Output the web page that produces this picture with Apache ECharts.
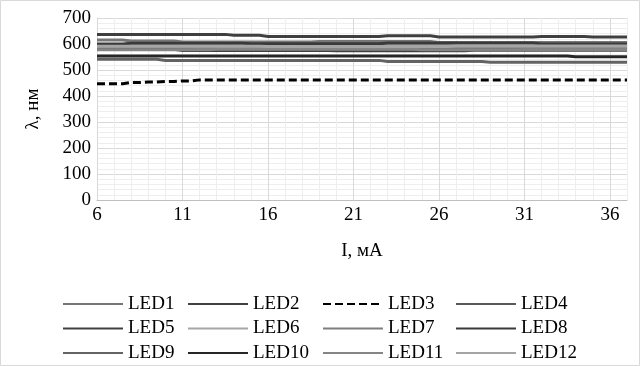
<!DOCTYPE html>
<html><head><meta charset="utf-8">
<script src="https://cdn.jsdelivr.net/npm/echarts@6/dist/echarts.min.js"></script>
<style>html,body{margin:0;padding:0;background:#fff}#c{width:640px;height:366px}</style>
</head><body><div id="c"></div>
<script>
const currents = [6,7,8,9,10,11,12,13,14,15,16,17,18,19,20,21,22,23,24,25,26,27,28,29,30,31,32,33,34,35,36,37];
const LED1  = [615,615,612,612,612,608,608,608,608,608,608,608,608,610,610,610,610,610,610,610,606,606,606,606,606,606,606,606,606,606,606,606];
const LED2  = [637,637,637,637,637,637,637,637,634,634,629,629,629,629,629,629,629,632,632,632,627,627,627,627,627,627,629,629,629,627,627,627];
const LED3  = [447,447,452,454,456,458,462,462,462,462,462,462,462,462,462,462,462,462,462,462,462,462,462,462,462,462,462,462,462,462,462,462];
const LED4  = [584,584,584,584,584,581,581,581,581,581,581,581,581,581,581,583,583,583,583,583,583,583,583,583,580,580,580,580,580,580,580,580];
const LED5  = [580,580,580,580,580,575,575,575,575,575,575,575,575,575,574,574,574,574,574,574,574,574,576,576,576,576,576,576,576,576,576,576];
const LED6  = [596,596,596,596,596,596,596,596,593,593,593,593,593,593,593,593,593,595,595,595,595,595,595,595,595,595,592,592,592,592,592,592];
const LED7  = [588,588,588,588,588,588,586,586,586,586,586,586,586,586,586,586,589,589,589,589,589,589,589,589,589,587,587,587,587,587,587,587];
const LED8  = [600,600,603,603,603,603,603,603,603,601,601,601,601,601,601,601,601,604,604,604,604,604,604,604,604,604,600,600,600,600,600,600];
const LED9  = [541,541,541,541,537,537,537,537,537,537,537,537,537,537,537,537,537,533,533,533,533,533,533,530,530,530,530,530,530,530,530,530];
const LED10 = [554,554,554,554,554,554,554,554,554,554,554,554,554,554,554,554,554,554,554,554,554,554,554,554,554,554,554,554,551,551,551,551];
const LED11 = [578,578,578,578,578,578,578,580,580,580,580,580,580,580,580,580,580,580,580,578,578,578,578,578,578,578,578,578,578,578,578,578];
const LED12 = [591,591,591,591,591,591,591,591,591,591,590,590,590,590,590,590,590,590,590,590,590,592,592,592,592,592,592,592,592,592,592,592];
const seriesNames = ['LED1','LED2','LED3','LED4','LED5','LED6','LED7','LED8','LED9','LED10','LED11','LED12'];
const seriesValues = [LED1,LED2,LED3,LED4,LED5,LED6,LED7,LED8,LED9,LED10,LED11,LED12];
const colors = ['#767676','#3f3f3f','#000000','#595959','#404040','#a6a6a6','#7f7f7f','#3a3a3a','#636363','#262626','#858585','#a5a5a5'];
const xTicks = [6,11,16,21,26,31,36];
const yTicks = [0,100,200,300,400,500,600,700];

const font = 'Liberation Serif';
const chart = echarts.init(document.getElementById('c'));
const series = seriesNames.map((n,i)=>({
  name:n, type:'line', symbol:'none', smooth:false, step:'middle', animation:false,
  xAxisIndex:0,
  lineStyle:{color:colors[i], width:3, type: n==='LED3' ? [8,4] : 'solid', join:'miter', cap:'butt'},
  itemStyle:{color:colors[i]},
  data: currents.map((x,k)=>[x, seriesValues[i][k]])
}));
const cols = [[0,4,8],[1,5,9],[2,6,10],[3,7,11]];
const colLeft = [62,187,322,455];
chart.setOption({
  animation:false,
  backgroundColor:'#fff',
  graphic:[{type:'rect', shape:{x:0.5,y:0.5,width:639,height:365}, style:{fill:'none', stroke:'#d9d9d9', lineWidth:1}, silent:true}],
  grid:{left:97, right:13, top:18, bottom:166, containLabel:false},
  xAxis:[{
    type:'value', min:xTicks[0], max:37, interval:5,
    name:'I, мА', nameLocation:'middle', nameGap:42,
    nameTextStyle:{fontFamily:font, fontSize:19, color:'#000'},
    axisLine:{show:true, lineStyle:{color:'#bfbfbf', width:1}},
    axisTick:{show:false},
    axisLabel:{fontFamily:font, fontSize:19, color:'#000', margin:6, showMaxLabel:false},
    splitLine:{show:true, showMaxLine:false, lineStyle:{color:'#d9d9d9', width:1}},
    z:2
  },{
    type:'value', min:6, max:37, interval:1, position:'top',
    axisLine:{show:false}, axisTick:{show:false}, axisLabel:{show:false},
    splitLine:{show:true, lineStyle:{color:'#eeeeee', width:1}},
    z:0
  }],
  yAxis:{
    type:'value', min:yTicks[0], max:yTicks[yTicks.length-1], interval:100,
    name:'λ, нм', nameLocation:'middle', nameGap:54, nameRotate:90,
    nameTextStyle:{fontFamily:font, fontSize:19, color:'#000'},
    axisLine:{show:true, lineStyle:{color:'#bfbfbf', width:1}},
    axisTick:{show:false},
    axisLabel:{fontFamily:font, fontSize:19, color:'#000', margin:6},
    splitLine:{show:true, lineStyle:{color:'#d9d9d9', width:1}},
    minorTick:{show:false, splitNumber:5},
    minorSplitLine:{show:true, lineStyle:{color:'#eeeeee', width:1}}
  },
  legend: cols.map((idx,c)=>({
    orient:'vertical', left:colLeft[c], top:294, width:130, height:100, padding:0,
    itemWidth:60, itemHeight:14, itemGap:4.5,
    selectedMode:false,
    itemStyle:{opacity:0},
    data: idx.map(i=>seriesNames[i]),
    textStyle:{fontFamily:font, fontSize:19, color:'#000', lineHeight:20}
  })),
  series: series
});
</script></body></html>
